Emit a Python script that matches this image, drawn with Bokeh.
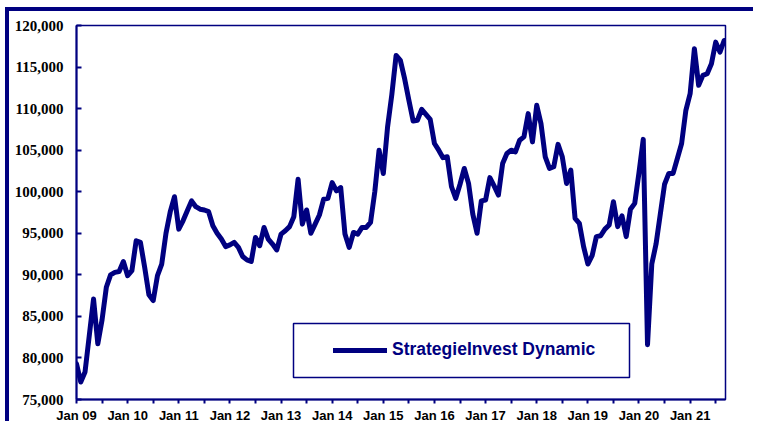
from bokeh.plotting import figure
from bokeh.models import (FixedTicker, NumeralTickFormatter, Legend, LegendItem,
                          BoxAnnotation, Range1d, ColumnDataSource)
from bokeh.embed import file_html
from bokeh.resources import INLINE

# Month index 0 = Jan 2009 ... 152 = Sep 2021
values = [
    79300, 77100, 78300, 82700, 87100, 81700, 84600, 88500, 90000, 90300, 90400, 91600,
    89900, 90500, 94100, 93900, 90900, 87600, 86900, 89900, 91300, 95000, 97600, 99400,
    95500, 96500, 97700, 98900, 98200, 97900, 97800, 97600, 95900, 95000, 94300, 93400,
    93600, 93900, 93300, 92200, 91800, 91600, 94500, 93500, 95700, 94300, 93700, 93000,
    94900, 95300, 95800, 97000, 101500, 96100, 97800, 95000, 96100, 97200, 99100, 99200,
    101100, 100100, 100500, 94900, 93300, 95100, 94900, 95700, 95700, 96300, 100000, 105000,
    102200, 107800, 111700, 116400, 115800, 113600, 111000, 108500, 108600, 109900, 109300, 108700,
    105800, 105000, 104100, 104200, 100600, 99200, 100900, 102800, 101000, 97300, 95000, 98900,
    99000, 101700, 100700, 99600, 103400, 104600, 105000, 104800, 106200, 106600, 109400, 106000,
    110400, 108200, 104200, 102800, 103000, 105700, 104200, 101000, 102600, 96800, 96200, 93400,
    91300, 92300, 94600, 94700, 95500, 96000, 98800, 95800, 97100, 94600, 97900, 98600,
    102300, 106300, 81600, 91300, 93700, 97300, 100900, 102200, 102200, 104000, 105800, 109800,
    111800, 117200, 112800, 114000, 114200, 115400, 118000, 116800, 118200,
]
months = list(range(len(values)))

tick_labels = ["Jan 09", "Jan 10", "Jan 11", "Jan 12", "Jan 13", "Jan 14", "Jan 15",
               "Jan 16", "Jan 17", "Jan 18", "Jan 19", "Jan 20", "Jan 21"]
series_name = "StrategieInvest Dynamic"

NAVY = "#000080"

p = figure(width=748, height=414, output_backend="svg", toolbar_location=None,
           x_range=Range1d(0, 152.3), y_range=Range1d(75000, 120000),
           min_border_left=67, min_border_right=32, min_border_top=14, min_border_bottom=22)
p.styles = {"border-top": "4px solid #000080", "border-left": "4px solid #000080",
            "margin-left": "5px", "margin-top": "7px"}
p.background_fill_color = "white"
p.border_fill_color = "white"
p.grid.visible = False
p.outline_line_color = NAVY
p.outline_line_width = 1.5

src = ColumnDataSource(dict(x=months, y=values))
r = p.line("x", "y", source=src, line_color=NAVY, line_width=5, line_join="round", line_cap="round")

# x axis: ticks every 6 months, labels only on January
ticks = list(range(0, 151, 6))
overrides = {}
for t in ticks:
    overrides[t] = tick_labels[t // 12] if t % 12 == 0 else ""
xa = p.xaxis[0]
xa.ticker = FixedTicker(ticks=ticks)
xa.major_label_overrides = overrides
xa.axis_line_color = NAVY
xa.axis_line_width = 2
xa.major_tick_line_color = NAVY
xa.major_tick_line_width = 2
xa.major_tick_in = 0
xa.major_tick_out = 4
xa.minor_tick_line_color = None
xa.major_label_standoff = 4
xa.major_label_text_font = "Liberation Sans"
xa.major_label_text_font_style = "bold"
xa.major_label_text_font_size = "13px"
xa.major_label_text_color = "black"

ya = p.yaxis[0]
ya.ticker = FixedTicker(ticks=list(range(75000, 120001, 5000)))
ya.formatter = NumeralTickFormatter(format="0,0")
ya.axis_line_color = NAVY
ya.axis_line_width = 2
ya.major_tick_line_color = NAVY
ya.major_tick_line_width = 2
ya.major_tick_in = 5
ya.major_tick_out = 0
ya.minor_tick_line_color = None
ya.major_label_standoff = 13
ya.major_label_text_font = "Liberation Serif"
ya.major_label_text_font_style = "bold"
ya.major_label_text_font_size = "15px"
ya.major_label_text_color = "black"

# legend frame
box = BoxAnnotation(left=217, right=553, bottom=22, top=76,
                    left_units="screen", right_units="screen",
                    bottom_units="screen", top_units="screen",
                    fill_color="white", fill_alpha=1.0,
                    line_color=NAVY, line_width=1.5, line_alpha=1.0)
p.add_layout(box)

legend = Legend(items=[LegendItem(label=series_name, renderers=[r])],
                location=(252, 34), padding=5, glyph_width=54, glyph_height=20,
                label_height=20, label_standoff=5,
                border_line_alpha=0, background_fill_alpha=0,
                label_text_font="Liberation Sans", label_text_font_style="bold",
                label_text_font_size="17.5px", label_text_color=NAVY)
p.add_layout(legend, "center")

open("out.html", "w").write(file_html(p, INLINE))
